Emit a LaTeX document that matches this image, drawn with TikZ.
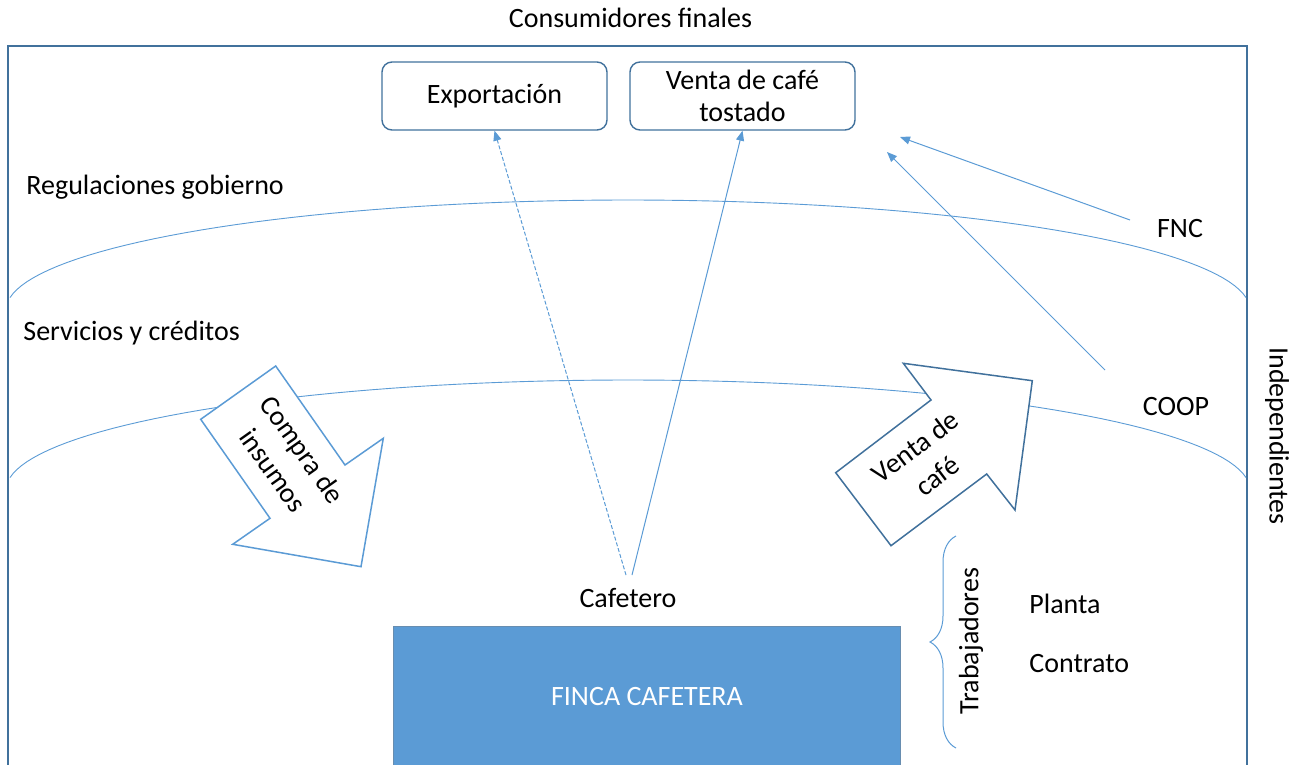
\documentclass[tikz,border=0pt]{standalone}
\usepackage{fontspec}
\setmainfont{Carlito}
\usetikzlibrary{arrows.meta,decorations.pathreplacing}
\definecolor{lineblue}{HTML}{5B9BD5}
\definecolor{darkblue}{HTML}{41719C}
\tikzset{
	txt/.style={font=\fontsize{14}{16}\selectfont, inner sep=0pt, align=center},
	topbox/.style={txt, draw=darkblue, line width=0.7pt, rounded corners=5pt, minimum width=112.5pt, minimum height=34pt},
	layer/.style={lineblue, line width=0.45pt},
	flow/.style={lineblue, line width=0.5pt, -{Triangle[length=5pt,width=4pt]}},
	bigarrow/.style={fill=white, line width=0.75pt},
}

\begin{document}
\begin{tikzpicture}[x=0.5pt, y=-0.5pt]
		%%%%% START %%%%%
		\useasboundingbox (0,0) rectangle (1302,765);
		
		\node[txt] (consumidores) at (630.5,18) {Consumidores finales};
		\draw[darkblue, line width=0.7pt] (8,770) -- (8,46) -- (1247,46) -- (1247,770);
		
		% rings
		\draw[layer] plot[domain=186.5:353.5, samples=80] ({628+622*cos(\x)}, {310+110*sin(\x)});
		\draw[layer] plot[domain=186.5:353.5, samples=80] ({628+622*cos(\x)}, {490+110*sin(\x)});
		
		\node[txt, anchor=west] (regulaciones) at (26,187) {Regulaciones gobierno};
		\node[txt, anchor=west] (servicios) at (23,333) {Servicios y créditos};
		\node[txt] (fnc) at (1180,229) {FNC};
		\node[txt] (coop) at (1176,407) {COOP};
		\node[txt, rotate=-90] (independientes) at (1277,436) {Independientes};
		
		\node[topbox] (export) at (494.5,96) {Exportación};
		\node[topbox] (tostado) at (742.5,96) {Venta de café\\tostado};
		
		% block arrows
		\draw[bigarrow, draw=lineblue] (275.7,366) -- (345,465) -- (383.3,438.3) -- (361,566.7) -- (232.7,544.3) -- (270,518.3) -- (200.7,419.3) -- cycle;
		\node[txt, rotate=-54.7] (compra) at (288,460) {Compra de\\[2pt]insumos};
		\draw[bigarrow, draw=darkblue] (903.3,363.3) -- (1032.3,380.7) -- (1015,510) -- (986.7,474) -- (891,545.7) -- (835.7,472.7) -- (931,400) -- cycle;
		\node[txt, rotate=37] (ventacafe) at (926,461) {Venta de\\[2pt]café};
		
		\node[txt] (cafetero) at (628,598) {Cafetero};
		\draw[fill=lineblue, draw=darkblue!80, line width=0.5pt] (393,626) rectangle (900,775);
		\node[txt, white] (finca) at (647,697) {FINCA CAFETERA};
		
		\coordinate (cafeL) at (626,575);
		\coordinate (cafeR) at (632,575);
		\draw[flow, dash pattern=on 2pt off 1pt] (cafeL) -- (export.south);
		\draw[flow] (cafeR) -- (tostado.south);
		
		\coordinate (fncfrom) at (1130,220);
		\coordinate (fncto) at (900,137);
		\coordinate (coopfrom) at (1105,370);
		\coordinate (coopto) at (887,152);
		\draw[flow] (fncfrom) -- (fncto);
		\draw[flow] (coopfrom) -- (coopto);
		
		% workers
		\draw[lineblue, line width=0.5pt, decorate, decoration={brace, amplitude=13pt}] (956,748) -- (956,536);
		\node[txt, rotate=90] (trabajadores) at (971,641) {Trabajadores};
		\node[txt, anchor=west] (planta) at (1029,604) {Planta};
		\node[txt, anchor=west] (contrato) at (1029,664) {Contrato};
		
		%%%%% END %%%%%
	\end{tikzpicture}
\end{document}
